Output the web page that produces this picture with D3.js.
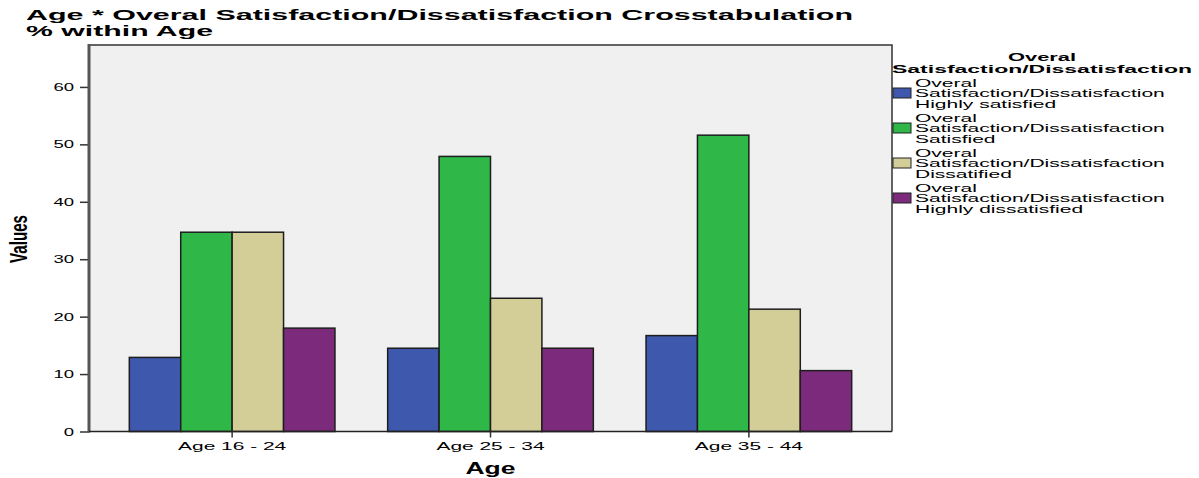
<!DOCTYPE html>
<html><head><meta charset="utf-8">
<script src="https://cdn.jsdelivr.net/npm/d3@7"></script>
<style>body{margin:0;background:#fff} svg{display:block} text{font-family:"Liberation Sans",Arial,sans-serif;fill:#000}</style>
</head><body><svg id="c" width="1199" height="478"></svg>
<script>
const categories = ["Age 16 - 24", "Age 25 - 34", "Age 35 - 44"];
const seriesNames = ["Highly satisfied", "Satisfied", "Dissatified", "Highly dissatisfied"];
const highlySatisfied = [12.9, 14.5, 16.7];
const satisfied = [34.7, 47.9, 51.6];
const dissatisfied = [34.7, 23.2, 21.3];
const highlyDissatisfied = [18.0, 14.5, 10.6];
const yTicks = [0, 10, 20, 30, 40, 50, 60];
const colors = ["#3d58ac", "#2fb848", "#d3ce98", "#7c2a7b"];

const series = [highlySatisfied, satisfied, dissatisfied, highlyDissatisfied];
const svg = d3.select("#c");
const L = 89, R = 892, T = 45, B = 431.5;

function stretch(sel, f) {
  sel.each(function () {
    const w = this.getComputedTextLength();
    this.setAttribute("textLength", w * f);
    this.setAttribute("lengthAdjust", "spacingAndGlyphs");
  });
}
function fit(sel, w) {
  sel.attr("textLength", w).attr("lengthAdjust", "spacingAndGlyphs");
}

const x0 = d3.scaleBand().domain(categories).range([L, R]).paddingInner(0.204).paddingOuter(0.156);
const x1 = d3.scaleBand().domain(d3.range(series.length)).range([0, x0.bandwidth()]).padding(0);
const y = d3.scaleLinear().domain([0, 67.3]).range([B, T]);

// title
fit(svg.append("text").attr("x", 26).attr("y", 19.5).attr("font-size", 15.5).attr("font-weight", "bold")
  .text("Age * Overal Satisfaction/Dissatisfaction Crosstabulation"), 827);
fit(svg.append("text").attr("x", 26).attr("y", 35.5).attr("font-size", 15.5).attr("font-weight", "bold")
  .text("% within Age"), 187);

// plot bg
svg.append("rect").attr("x", L).attr("y", T).attr("width", R - L).attr("height", B - T).attr("fill", "#f0f0f0");

// bars
const g = svg.append("g");
categories.forEach((c, ci) => {
  series.forEach((s, si) => {
    g.append("rect")
      .attr("x", x0(c) + x1(si))
      .attr("y", y(s[ci]))
      .attr("width", x1.bandwidth())
      .attr("height", y(0) - y(s[ci]))
      .attr("fill", colors[si])
      .attr("stroke", "#1e1e1e").attr("stroke-width", 1.5);
  });
});

// frame
svg.append("path").attr("d", `M${L},${T}H${R}V${B}`).attr("fill", "none").attr("stroke", "#333").attr("stroke-width", 1.5);

// y axis
const yAxis = svg.append("g").attr("transform", `translate(${L},0)`)
  .call(d3.axisLeft(y).tickValues(yTicks).tickSize(9).tickPadding(6));
yAxis.select(".domain").remove();
yAxis.selectAll(".tick line").attr("stroke", "#333").attr("stroke-width", 1.5);
yAxis.selectAll(".tick text").attr("font-size", 10).attr("font-family", null).attr("dy", "0.36em").call(stretch, 1.85);
svg.append("line").attr("x1", L).attr("x2", L).attr("y1", T - 1).attr("y2", B + 1).attr("stroke", "#555").attr("stroke-width", 3);

// x axis
const xAxis = svg.append("g").attr("transform", `translate(0,${B})`)
  .call(d3.axisBottom(x0).tickSize(6).tickPadding(5));
xAxis.select(".domain").attr("d", `M${L},0H${R}`).attr("stroke", "#222").attr("stroke-width", 1.5);
xAxis.selectAll(".tick line").attr("stroke", "#333").attr("stroke-width", 1.5);
xAxis.selectAll(".tick text").attr("font-size", 11).attr("font-family", null).attr("dy", "0.71em").call(stretch, 1.9);

// axis titles
fit(svg.append("text").attr("x", (L + R) / 2).attr("y", 474).attr("text-anchor", "middle")
  .attr("font-size", 16).attr("font-weight", "bold").text("Age"), 50);
fit(svg.append("text").attr("transform", `translate(27,${239}) rotate(-90)`).attr("text-anchor", "middle")
  .attr("font-size", 24).attr("font-weight", "bold").text("Values"), 48);

// legend
const lg = svg.append("g");
fit(lg.append("text").attr("x", 1042).attr("y", 61).attr("text-anchor", "middle").attr("font-size", 11)
  .attr("font-weight", "bold").text("Overal"), 68);
fit(lg.append("text").attr("x", 1042).attr("y", 72.5).attr("text-anchor", "middle").attr("font-size", 11)
  .attr("font-weight", "bold").text("Satisfaction/Dissatisfaction"), 300);
seriesNames.forEach((n, i) => {
  const top = 88 + i * 35;
  lg.append("rect").attr("x", 893).attr("y", top).attr("width", 18).attr("height", 10)
    .attr("fill", colors[i]).attr("stroke", "#222").attr("stroke-width", 1);
  const lines = ["Overal", "Satisfaction/Dissatisfaction", n];
  lines.forEach((t, j) => {
    lg.append("text").attr("x", 915).attr("y", top - 1.5 + j * 10.8).attr("font-size", 10.5).text(t)
      .call(stretch, 2.0);
  });
});
</script></body></html>
